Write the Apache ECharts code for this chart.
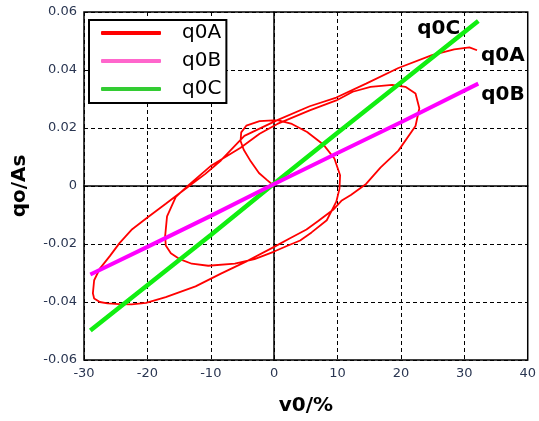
<!DOCTYPE html>
<html><head><meta charset="utf-8">
<script src="https://cdn.jsdelivr.net/npm/echarts@6/dist/echarts.min.js"></script>
<style>html,body{margin:0;padding:0;background:#fff}#c{width:539px;height:421px}</style>
</head><body><div id="c"></div>
<script>
// Series q0A (red hysteresis path)
const q0A_v = [0,-1.2,-2.4,-3.7,-4.8,-5.3,-5.2,-4.4,-2.3,0.5,2.8,5.2,7.8,9.5,10.4,10.3,9.8,
  8.3,5.9,4.1,2,0,-3.1,-6.2,-10.4,-13,-15,-16.3,-17.1,-17.2,-16.9,-15.5,-13.5,
  -9.9,-5.3,-2.3,0.5,5.6,9.8,12.4,15.2,
  18.6,20.7,22.3,22.9,22.3,19.6,16.8,14.5,12.1,10.6,
  9.3,7,5.1,2.5,0,-4.2,-8.4,-12.4,-17.1,-20.2,-22.5,-24.4,-26.3,-27.5,-28.4,-28.6,-28.4,-27.5,-25.9,-24.4,-22.4,-20.2,-17.1,-13,-10.9,-8.4,-4.7,0.5,5.6,9.8,14.5,19.6,24.9,28.4,30.8,32];
const q0A_q = [0,0.0022,0.0045,0.0085,0.0125,0.0155,0.0185,0.0208,0.0224,0.0227,0.0214,0.0186,0.0142,0.0095,0.0037,-0.001,-0.0054,
  -0.0118,-0.016,-0.0188,-0.0207,-0.0226,-0.0252,-0.0268,-0.0275,-0.0268,-0.0251,-0.0232,-0.0205,-0.0173,-0.0105,-0.0037,0.0003,
  0.0071,0.0132,0.018,0.0214,0.0261,0.0295,0.0325,0.0342,
  0.0349,0.0342,0.0319,0.0268,0.0207,0.0122,0.0064,0.0007,-0.0031,-0.0051,
  -0.0082,-0.012,-0.015,-0.018,-0.021,-0.0258,-0.0302,-0.0346,-0.0383,-0.0403,-0.0408,-0.0407,-0.0405,-0.04,-0.0388,-0.037,-0.0325,-0.0285,-0.0241,-0.0197,-0.0149,-0.0112,-0.0061,0.0007,0.0041,0.0088,0.0173,0.0227,0.0275,0.0305,0.0353,0.0407,0.0451,0.0471,0.0478,0.0468];
// Series q0B (magenta)
const q0B_v = [-29,-20,-10,0,10,20,32.2];
const q0B_q = [-0.0305,-0.021,-0.0103,0.0007,0.0114,0.022,0.0353];
// Series q0C (green)
const q0C_v = [-29,-20,-10,0,10,20,32.2];
const q0C_q = [-0.0498,-0.0342,-0.0169,0.0009,0.0184,0.0357,0.0569];
// Axes
const xMin = -30, xMax = 40, xStep = 10;
const yMin = -0.06, yMax = 0.06, yStep = 0.02;
const seriesNames = ['q0A','q0B','q0C'];

const zip = (a,b) => a.map((v,i)=>[v,b[i]]);
const chart = echarts.init(document.getElementById('c'), null, {renderer:'canvas'});
const tickFont = {fontFamily:'DejaVu Sans', fontSize:13, color:'#2a3652'};
const split = {show:true, lineStyle:{color:'#000', width:1, type:[4,3]}};
const endLbl = (off) => ({show:true, formatter:'{a}', distance:0, offset:off, align:'left', verticalAlign:'middle',
  fontFamily:'DejaVu Sans', fontWeight:'bold', fontSize:20, color:'#000'});
chart.setOption({
  animation:false,
  grid:{left:84, right:5, top:12, bottom:55, show:true, borderColor:'#000', borderWidth:1.5, backgroundColor:'transparent'},
  legend:{
    orient:'vertical', left:89, top:20, backgroundColor:'#fff', borderColor:'#000', borderWidth:2,
    padding:[3,5,4,12], itemGap:8, itemWidth:60, itemHeight:4, icon:'roundRect',
    textStyle:{fontFamily:'DejaVu Sans', fontSize:20, color:'#000', lineHeight:20, padding:[0,0,0,16]},
    data:[
      {name:seriesNames[0], itemStyle:{color:'#ff0000'}},
      {name:seriesNames[1], itemStyle:{color:'#ff66cc'}},
      {name:seriesNames[2], itemStyle:{color:'#33cc33'}}
    ]
  },
  xAxis:{type:'value', min:xMin, max:xMax, interval:xStep,
    name:'v0/%', nameLocation:'middle', nameGap:36,
    nameTextStyle:{fontFamily:'DejaVu Sans', fontWeight:'bold', fontSize:20, color:'#000'},
    axisLine:{show:true, lineStyle:{color:'#000', width:1.5}}, axisTick:{show:false},
    axisLabel:Object.assign({margin:7}, tickFont), splitLine:split},
  yAxis:{type:'value', min:yMin, max:yMax, interval:yStep,
    name:'qo/As', nameLocation:'middle', nameGap:54,
    nameTextStyle:{fontFamily:'DejaVu Sans', fontWeight:'bold', fontSize:20, color:'#000'},
    axisLine:{show:true, lineStyle:{color:'#000', width:1.5}}, axisTick:{show:false},
    axisLabel:Object.assign({margin:7}, tickFont), splitLine:split},
  series:[
    {name:seriesNames[2], type:'line', data:zip(q0C_v,q0C_q), showSymbol:false, symbol:'none',
      lineStyle:{color:'#11ee11', width:4.5}, itemStyle:{color:'#11ee11'}, z:3, endLabel:endLbl([-61,8])},
    {name:seriesNames[1], type:'line', data:zip(q0B_v,q0B_q), showSymbol:false, symbol:'none',
      lineStyle:{color:'#ff00ff', width:4}, itemStyle:{color:'#ff00ff'}, z:3, endLabel:endLbl([3,11])},
    {name:seriesNames[0], type:'line', data:zip(q0A_v,q0A_q), showSymbol:false, symbol:'none',
      lineStyle:{color:'#ff0000', width:1.8}, itemStyle:{color:'#ff0000'}, z:2, endLabel:endLbl([4,6])}
  ]
});
</script></body></html>
